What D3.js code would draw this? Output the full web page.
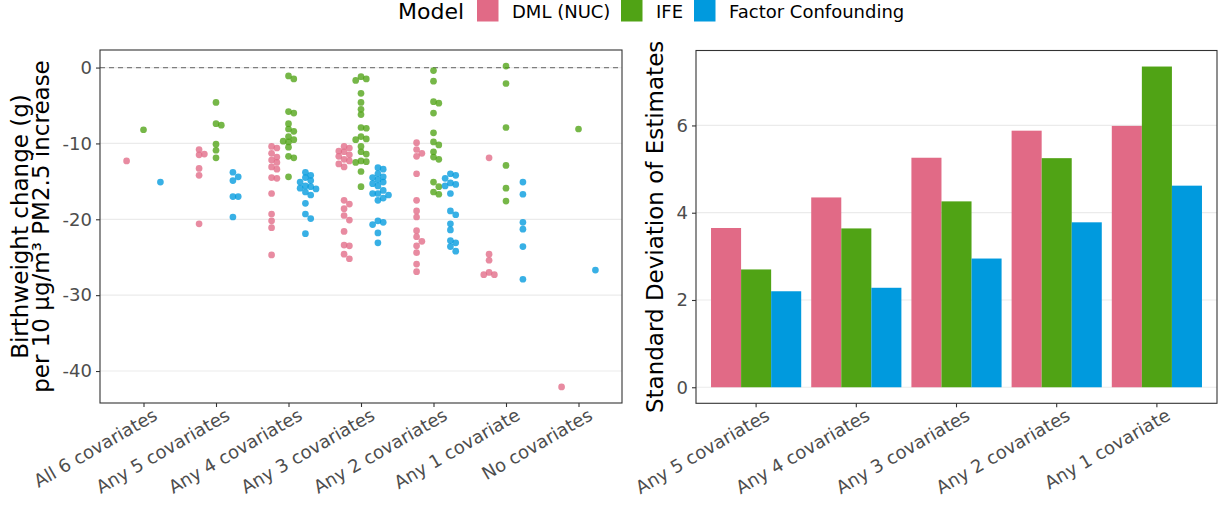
<!DOCTYPE html>
<html>
<head>
<meta charset="utf-8">
<script src="https://cdn.jsdelivr.net/npm/d3@7"></script>
<style>
  html, body { margin: 0; padding: 0; background: #fff; }
  svg { display: block; font-family: "DejaVu Sans", sans-serif; }
</style>
</head>
<body>
<svg id="chart" width="1225" height="508"></svg>
<script>
// ---- data -------------------------------------------------------------
const models = ["DML (NUC)", "IFE", "Factor Confounding"];
const modelColors = ["#E16A86", "#50A315", "#009ADE"];

const covariateSets = ["All 6 covariates", "Any 5 covariates", "Any 4 covariates",
  "Any 3 covariates", "Any 2 covariates", "Any 1 covariate", "No covariates"];

// Birthweight change estimates (g per 10 µg/m³ PM2.5), one array per covariate set
const dmlEstimates = [
  [-12.3],
  [-10.8, -11.4, -11.5, -13.3, -14.2, -20.6],
  [-10.4, -10.6, -11.3, -11.8, -12.2, -12.5, -13.1, -13.4, -14.5, -14.6, -16.6, -19.3, -20.2, -21.1, -24.7],
  [-10.4, -10.6, -11.0, -11.1, -11.5, -11.7, -12.1, -12.3, -12.7, -13.1,
   -17.5, -18.0, -18.6, -19.5, -20.1, -21.6, -23.4, -23.5, -24.6, -25.2],
  [-9.9, -10.8, -11.3, -11.7, -14.0, -17.5, -18.9, -19.7, -21.5, -22.3, -22.9, -23.5, -24.4, -25.9, -26.9],
  [-11.9, -24.6, -25.4, -27.0, -27.3, -27.3],
  [-42.1]
];
const ifeEstimates = [
  [-8.2],
  [-4.6, -7.4, -7.6, -10.1, -10.9, -11.9],
  [-1.1, -1.5, -5.8, -6.0, -7.4, -8.1, -8.4, -9.1, -9.5, -9.7, -9.8, -10.5, -11.7, -11.9, -14.4],
  [-1.2, -1.5, -1.7, -3.4, -4.6, -5.5, -6.2, -7.9, -8.0, -9.1,
   -9.4, -9.5, -10.4, -11.1, -11.4, -12.3, -12.4, -12.5, -13.7, -15.7],
  [-0.4, -1.8, -4.5, -4.7, -6.0, -8.6, -9.8, -10.2, -11.1, -11.8, -12.1, -15.1, -15.7, -16.4, -16.7],
  [0.2, -2.1, -7.9, -12.9, -15.9, -17.6],
  [-8.1]
];
const factorEstimates = [
  [-15.1],
  [-13.8, -14.4, -14.9, -17.0, -17.0, -19.7],
  [-13.8, -14.2, -14.5, -14.9, -15.1, -15.6, -15.7, -15.9, -16.0, -16.4, -16.8, -17.9, -19.3, -19.9, -21.9],
  [-13.2, -13.4, -14.0, -14.4, -14.5, -14.8, -15.1, -15.3, -15.6, -16.2,
   -16.6, -16.6, -16.8, -17.2, -17.5, -20.2, -20.4, -20.7, -21.8, -23.1],
  [-14.0, -14.2, -14.6, -15.2, -15.4, -15.6, -16.6, -18.9, -19.4, -20.6, -21.4, -22.8, -23.1, -23.6, -24.2],
  [-15.1, -16.7, -20.4, -21.3, -23.6, -27.9],
  [-26.7]
];

// Standard deviation of the estimates within each covariate set
const sdCategories = ["Any 5 covariates", "Any 4 covariates", "Any 3 covariates",
  "Any 2 covariates", "Any 1 covariate"];
const sdDml = [3.65, 4.35, 5.26, 5.88, 5.99];
const sdIfe = [2.70, 3.64, 4.26, 5.25, 7.35];
const sdFactor = [2.20, 2.28, 2.95, 3.78, 4.62];

const leftTicks = [0, -10, -20, -30, -40];
const rightTicks = [0, 2, 4, 6];

// ---- layout -----------------------------------------------------------
const svg = d3.select("#chart");
const tickColor = "#333333";
const labelColor = "#4D4D4D";
const gridColor = "#EBEBEB";
const tickFont = "18px";
const titleFont = "23px";

const L = { x0: 100, x1: 622, y0: 50, y1: 403 };
const R = { x0: 696, x1: 1217, y0: 50.5, y1: 403.3 };

function expand(lo, hi, f = 0.05) {
  const d = (hi - lo) * f;
  return [lo - d, hi + d];
}

// ---- left panel: estimates -------------------------------------------
const estimateSets = [dmlEstimates, ifeEstimates, factorEstimates];
const allVals = estimateSets.flat(2);
const yL = d3.scaleLinear()
  .domain(expand(d3.min(allVals), d3.max(allVals)))
  .range([L.y1, L.y0]);
const xL = d3.scalePoint().domain(covariateSets).range([L.x0, L.x1]).padding(0.6);
const dodge = xL.step() * 0.7 / 3;

const gL = svg.append("g");

gL.append("g").selectAll("line").data(leftTicks).join("line")
  .attr("x1", L.x0).attr("x2", L.x1)
  .attr("y1", d => yL(d)).attr("y2", d => yL(d))
  .attr("stroke", gridColor).attr("stroke-width", 1.2);

gL.append("line")
  .attr("x1", L.x0).attr("x2", L.x1)
  .attr("y1", yL(0)).attr("y2", yL(0))
  .attr("stroke", "#7f7f7f").attr("stroke-width", 1.2)
  .attr("stroke-dasharray", "5,4");

// simple swarm layout so overlapping points spread sideways
function swarm(values, cx, gap, minDist) {
  const pts = values.map(v => ({ v, y: yL(v) })).sort((a, b) => a.y - b.y);
  const placed = [];
  const steps = [0, 1, -1, 2, -2, 3, -3];
  pts.forEach(p => {
    for (const k of steps) {
      const x = cx + k * gap;
      if (placed.every(q => Math.hypot(q.x - x, q.y - p.y) >= minDist)) {
        p.x = x; placed.push(p); break;
      }
    }
    if (p.x === undefined) { p.x = cx; placed.push(p); }
  });
  return placed;
}

const dots = [];
estimateSets.forEach((set, mi) => {
  set.forEach((vals, ci) => {
    const cx = xL(covariateSets[ci]) + (mi - 1) * dodge;
    swarm(vals, cx, 5.3, 5.0).forEach(p => dots.push({ ...p, mi }));
  });
});

gL.append("g").selectAll("circle").data(dots).join("circle")
  .attr("cx", d => d.x).attr("cy", d => d.y).attr("r", 3.35)
  .attr("fill", d => modelColors[d.mi]).attr("fill-opacity", 0.78);

gL.append("rect")
  .attr("x", L.x0).attr("y", L.y0)
  .attr("width", L.x1 - L.x0).attr("height", L.y1 - L.y0)
  .attr("fill", "none").attr("stroke", tickColor).attr("stroke-width", 1.1);

const axLeft = gL.append("g").attr("transform", `translate(${L.x0},0)`)
  .call(d3.axisLeft(yL).tickValues(leftTicks).tickSize(4).tickPadding(4).tickFormat(d => String(d)));
const axBottomL = gL.append("g").attr("transform", `translate(0,${L.y1})`)
  .call(d3.axisBottom(xL).tickSize(4).tickPadding(2));

// ---- right panel: standard deviations --------------------------------
const sdSeries = [sdDml, sdIfe, sdFactor];
const yR = d3.scaleLinear()
  .domain(expand(0, d3.max(sdSeries.flat())))
  .range([R.y1, R.y0]);
const xR = d3.scaleBand().domain(sdCategories).range([R.x0, R.x1])
  .paddingInner(0.1).paddingOuter(0.15);
const xSub = d3.scaleBand().domain(models).range([0, xR.bandwidth()]);

const gR = svg.append("g");

gR.append("g").selectAll("line").data(rightTicks).join("line")
  .attr("x1", R.x0).attr("x2", R.x1)
  .attr("y1", d => yR(d)).attr("y2", d => yR(d))
  .attr("stroke", gridColor).attr("stroke-width", 1.2);

const bars = [];
sdSeries.forEach((vals, mi) => vals.forEach((v, ci) => bars.push({ v, mi, c: sdCategories[ci] })));

gR.append("g").selectAll("rect").data(bars).join("rect")
  .attr("x", d => xR(d.c) + xSub(models[d.mi]))
  .attr("width", xSub.bandwidth())
  .attr("y", d => yR(d.v))
  .attr("height", d => yR(0) - yR(d.v))
  .attr("fill", d => modelColors[d.mi]);

gR.append("rect")
  .attr("x", R.x0).attr("y", R.y0)
  .attr("width", R.x1 - R.x0).attr("height", R.y1 - R.y0)
  .attr("fill", "none").attr("stroke", tickColor).attr("stroke-width", 1.1);

const axRight = gR.append("g").attr("transform", `translate(${R.x0},0)`)
  .call(d3.axisLeft(yR).tickValues(rightTicks).tickSize(4).tickPadding(4).tickFormat(d => String(d)));
const axBottomR = gR.append("g").attr("transform", `translate(0,${R.y1})`)
  .call(d3.axisBottom(xR).tickSize(4).tickPadding(2));

// shared axis styling
[axLeft, axBottomL, axRight, axBottomR].forEach(ax => {
  ax.select(".domain").remove();
  ax.selectAll(".tick line").attr("stroke", tickColor).attr("stroke-width", 1.1);
  ax.selectAll(".tick text").attr("fill", labelColor)
    .style("font-size", tickFont).style("font-family", "DejaVu Sans, sans-serif");
});
[axBottomL, axBottomR].forEach(ax => {
  ax.selectAll(".tick text")
    .attr("text-anchor", "end")
    .attr("y", 0)
    .attr("dy", "0.75em")
    .attr("transform", "translate(8,4) rotate(-30)");
});

// axis titles
const titleL = svg.append("text")
  .attr("transform", `translate(0,${(L.y0 + L.y1) / 2}) rotate(-90)`)
  .attr("text-anchor", "middle")
  .style("font-size", titleFont).attr("fill", "#000");
titleL.append("tspan").attr("x", 0).attr("y", 28).text("Birthweight change (g)");
titleL.append("tspan").attr("x", 0).attr("y", 49).text("per 10 μg/m³ PM2.5 increase");

svg.append("text")
  .attr("transform", `translate(663,${(R.y0 + R.y1) / 2}) rotate(-90)`)
  .attr("text-anchor", "middle")
  .style("font-size", titleFont).attr("fill", "#000")
  .text("Standard Deviation of Estimates");

// ---- legend ---------------------------------------------------------
const legend = svg.append("g");
legend.append("text").attr("x", 398).attr("y", 19)
  .style("font-size", "22px").attr("fill", "#000").text("Model");
const legendKeys = [477, 621, 694];
models.forEach((m, i) => {
  legend.append("rect").attr("x", legendKeys[i]).attr("y", 0)
    .attr("width", 21.5).attr("height", 21.5).attr("fill", modelColors[i]);
  legend.append("text").attr("x", legendKeys[i] + 35).attr("y", 17.5)
    .style("font-size", tickFont).attr("fill", "#000").text(m);
});
</script>
</body>
</html>
